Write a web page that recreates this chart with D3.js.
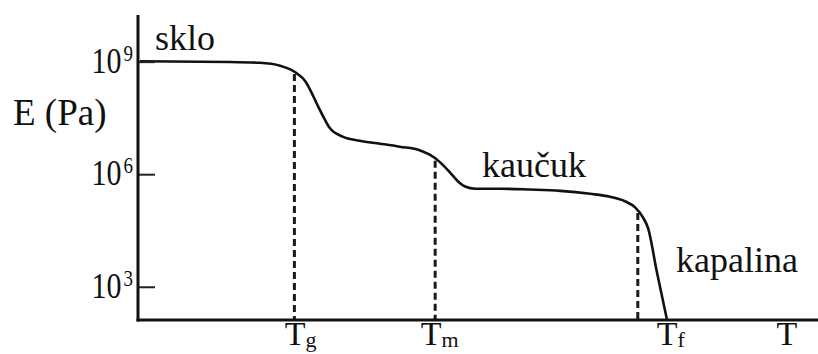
<!DOCTYPE html>
<html>
<head>
<meta charset="utf-8">
<script src="https://cdn.jsdelivr.net/npm/d3@7"></script>
<style>
  body { margin: 0; background: #fff; }
  svg { display: block; }
</style>
</head>
<body>
<svg id="chart" width="818" height="354"></svg>
<script>
// Modulus–temperature curve of a polymer (arbitrary temperature units)
const temperature = [0.3, 13.5, 17.9, 20.9, 22.4, 23.4, 24.6, 25.3, 26.5, 27.5, 28.2,
  30.1, 32.6, 35.6, 38.5, 41.5, 42.9, 44.4, 45.9, 47.1, 48.1, 49.6, 53.2, 57.6,
  62.1, 66.5, 69.4, 71.6, 73.1, 74.3, 75.0, 76.3, 77.8];
const modulus = [1.02e9, 9.8e8, 9.3e8, 7.8e8, 6.2e8, 4.8e8, 3.0e8, 1.8e8, 6.3e7, 2.8e7, 1.7e7,
  1.0e7, 7.8e6, 6.5e6, 5.4e6, 4.3e6, 3.3e6, 2.1e6, 1.1e6, 6.3e5, 4.7e5, 4.1e5, 4.1e5, 3.9e5,
  3.6e5, 3.0e5, 2.5e5, 1.9e5, 1.3e5, 6.9e4, 3.7e4, 2.5e3, 1.3e2];

// y axis ticks
const yTickValues = [1e3, 1e6, 1e9];
const yTickExponents = ["3", "6", "9"];

// transition temperatures: dashed drop lines and their axis labels
const transitionSubscripts = ["g", "m", "f"];
const transitionTemps = [23.0, 43.7, 73.5];
const transitionLabelTemps = [23.2, 43.2, 77.9];

// region names
const regionNames = ["sklo", "kaučuk", "kapalina"];

const FONT = "'Liberation Serif', 'Times New Roman', 'DejaVu Serif', serif";

const svg = d3.select("#chart")
  .style("font-family", FONT);

const x = d3.scaleLinear().domain([0, 100]).range([138, 818]);
const y = d3.scaleLog().domain([130, 1.75e10]).range([320, 15]);

const points = temperature.map((t, i) => ({ t, e: modulus[i] }));

// modulus at a given temperature, interpolated in log space along the curve
function modulusAt(t) {
  const i = Math.max(1, d3.bisector(d => d.t).left(points, t));
  const a = points[i - 1], b = points[i];
  const f = (t - a.t) / (b.t - a.t);
  return Math.pow(10, Math.log10(a.e) + f * (Math.log10(b.e) - Math.log10(a.e)));
}

// dashed drop lines
svg.append("g")
  .selectAll("line")
  .data(transitionTemps)
  .join("line")
  .attr("x1", d => x(d)).attr("x2", d => x(d))
  .attr("y1", d => y(modulusAt(d)) + 2)
  .attr("y2", y(130))
  .attr("stroke", "#1a1a1a")
  .attr("stroke-width", 3)
  .attr("stroke-dasharray", "7,4");

// the curve
const line = d3.line()
  .x(d => x(d.t))
  .y(d => y(d.e))
  .curve(d3.curveMonotoneX);

svg.append("path")
  .datum(points)
  .attr("d", line)
  .attr("fill", "none")
  .attr("stroke", "#111")
  .attr("stroke-width", 2.6)
  .attr("stroke-linejoin", "round");

// axes
const yAxis = d3.axisRight(y)
  .tickValues(yTickValues)
  .tickSize(17)
  .tickFormat("");

const gy = svg.append("g")
  .attr("transform", `translate(${x(0)},0)`)
  .call(yAxis);
gy.select(".domain").remove();
gy.selectAll(".tick line").attr("stroke", "#222").attr("stroke-width", 2);

svg.append("line")
  .attr("x1", x(0)).attr("x2", x(0))
  .attr("y1", y(1.75e10)).attr("y2", y(130) + 1.5)
  .attr("stroke", "#111").attr("stroke-width", 3);

svg.append("line")
  .attr("x1", x(0) - 1.5).attr("x2", x(100))
  .attr("y1", y(130)).attr("y2", y(130))
  .attr("stroke", "#111").attr("stroke-width", 3);

// y tick labels: 10 with superscript exponent
const tickLabels = svg.append("g")
  .selectAll("text")
  .data(yTickValues)
  .join("text")
  .attr("text-anchor", "end")
  .attr("fill", "#111")
  .style("font-family", FONT)
  .attr("transform", d => `translate(${x(0) - 5},${y(d) + 11}) scale(1,1.2)`)
  .style("font-size", "30px");
tickLabels.append("tspan").text("10");
tickLabels.append("tspan")
  .attr("dx", 2)
  .attr("dy", -10)
  .style("font-size", "19px")
  .text((d, i) => yTickExponents[i]);

// y axis title
svg.append("text")
  .attr("x", 13).attr("y", 125)
  .attr("fill", "#111")
  .style("font-family", FONT)
  .style("font-size", "37px")
  .text("E (Pa)");

// region names
const regionPos = [[155, 50], [482, 177], [676, 272]];
svg.append("g")
  .selectAll("text")
  .data(regionNames)
  .join("text")
  .attr("x", (d, i) => regionPos[i][0])
  .attr("y", (d, i) => regionPos[i][1])
  .attr("fill", "#111")
  .style("font-family", FONT)
  .style("font-size", "36px")
  .text(d => d);

// transition labels on the temperature axis
const tLabels = svg.append("g")
  .selectAll("text")
  .data(transitionLabelTemps)
  .join("text")
  .attr("x", d => x(d) - 11)
  .attr("y", 345)
  .attr("fill", "#111")
  .style("font-family", FONT)
  .style("font-size", "34px");
tLabels.append("tspan").text("T");
tLabels.append("tspan")
  .attr("dy", 2)
  .style("font-size", "22px")
  .text((d, i) => transitionSubscripts[i]);

// temperature axis title
svg.append("text")
  .attr("x", x(95.5) - 11)
  .attr("y", 345)
  .attr("fill", "#111")
  .style("font-family", FONT)
  .style("font-size", "34px")
  .text("T");
</script>
</body>
</html>
